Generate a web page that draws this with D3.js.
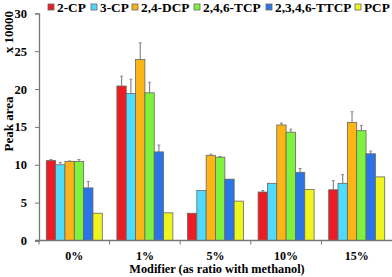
<!DOCTYPE html>
<html><head><meta charset="utf-8">
<script src="https://cdn.jsdelivr.net/npm/d3@7"></script>
<style>body{margin:0;background:#fff}svg{display:block}text{font-family:"Liberation Serif","Times New Roman",serif;font-weight:bold;fill:#000}</style>
</head><body><svg id="c" width="392" height="277"></svg>
<script>
const categories = ["0%", "1%", "5%", "10%", "15%"];
const seriesNames = ["2-CP", "3-CP", "2,4-DCP", "2,4,6-TCP", "2,3,4,6-TTCP", "PCP"];
const colors = ["#ec1c24", "#4fdcfc", "#fdb515", "#7ef23c", "#2b74e8", "#eef51e"];
// values per series (rows) across categories (columns)
const values = [
  [10.55, 20.4, 3.6, 6.4, 6.7],
  [10.0, 19.4, 6.6, 7.55, 7.55],
  [10.45, 23.9, 11.25, 15.25, 15.6],
  [10.45, 19.5, 11.0, 14.3, 14.5],
  [6.95, 11.7, 8.1, 9.0, 11.45],
  [3.6, 3.65, 5.2, 6.75, 8.4]
];
const errors = [
  [0.15, 1.3, 0, 0.2, 1.2],
  [0.3, 1.9, 0, 0, 1.15],
  [0.05, 2.2, 0.15, 0.25, 1.4],
  [0.25, 1.4, 0.1, 0.4, 0.7],
  [0.85, 0.9, 0, 0.5, 0.35],
  [0, 0, 0, 0, 0]
];
const yTicks = [0, 5, 10, 15, 20, 25, 30];

(function () {
const svg = d3.select("#c");
const mLeft = 39, mRight = 392, mTop = 13.3, mBottom = 240.5;
const x0 = d3.scaleBand().domain(categories).range([mLeft, mRight]).paddingInner(0).paddingOuter(0);
const x1 = d3.scaleBand().domain(seriesNames).range([7.3, x0.bandwidth() - 7.3]).padding(0);
const y = d3.scaleLinear().domain([0, 30]).range([mBottom, mTop]);

const data = [];
seriesNames.forEach((s, i) => categories.forEach((c, j) => data.push({s, c, i, v: values[i][j], e: errors[i][j]})));
const cx = d => x0(d.c) + x1(d.s) + x1.bandwidth() / 2;

const g = svg.append("g");
g.selectAll("line.err").data(data.filter(d => d.e > 0)).join("line")
  .attr("x1", cx).attr("x2", cx)
  .attr("y1", d => y(d.v)).attr("y2", d => y(d.v + d.e))
  .attr("stroke", "#888").attr("stroke-width", 1.2);
g.selectAll("line.cap").data(data.filter(d => d.e > 0)).join("line")
  .attr("x1", d => cx(d) - 1.5).attr("x2", d => cx(d) + 1.5)
  .attr("y1", d => y(d.v + d.e)).attr("y2", d => y(d.v + d.e))
  .attr("stroke", "#888").attr("stroke-width", 1);
g.selectAll("rect.bar").data(data).join("rect")
  .attr("x", d => x0(d.c) + x1(d.s))
  .attr("width", x1.bandwidth())
  .attr("y", d => y(d.v))
  .attr("height", d => y(0) - y(d.v))
  .attr("fill", d => colors[d.i])
  .attr("stroke", "#666").attr("stroke-width", 0.8);

const ya = svg.append("g").attr("transform", `translate(${mLeft},0)`)
  .call(d3.axisLeft(y).tickValues(yTicks).tickSize(4).tickPadding(8));
ya.select(".domain").attr("stroke", "#777").attr("stroke-width", 1.3);
ya.selectAll(".tick line").attr("stroke", "#777");
ya.selectAll("text").attr("font-size", 12.5).style("font-family", '"Liberation Serif",serif').style("font-weight", "bold");

const xa = svg.append("g").attr("transform", `translate(0,${mBottom})`);
xa.append("line").attr("x1", mLeft - 4).attr("x2", mRight).attr("y1", 0).attr("y2", 0).attr("stroke", "#777").attr("stroke-width", 1.3);
xa.selectAll("line.t").data(categories).join("line")
  .attr("x1", d => x0(d)).attr("x2", d => x0(d)).attr("y1", 0).attr("y2", 4).attr("stroke", "#777");
xa.selectAll("text").data(categories).join("text")
  .attr("x", d => x0(d) + x0.bandwidth() / 2).attr("y", 19.5)
  .attr("text-anchor", "middle").attr("font-size", 12).text(d => d);

svg.append("text").attr("x", 217).attr("y", 273).attr("text-anchor", "middle").attr("font-size", 12.3)
  .text("Modifier (as ratio with methanol)");
svg.append("text").attr("transform", "translate(13,124) rotate(-90)").attr("text-anchor", "middle").attr("font-size", 13)
  .text("Peak area");
svg.append("text").attr("transform", "translate(13,32) rotate(-90)").attr("text-anchor", "middle").attr("font-size", 13)
  .text("x 10000");

const legX = [48, 91, 132, 194, 266, 355];
const lg = svg.append("g").selectAll("g").data(seriesNames).join("g")
  .attr("transform", (d, i) => `translate(${legX[i]},0)`);
lg.append("rect").attr("x", 0).attr("y", 4).attr("width", 6).attr("height", 6)
  .attr("fill", (d, i) => colors[i]).attr("stroke", "#666").attr("stroke-width", 0.8);
lg.append("text").attr("x", 9).attr("y", 11.5).attr("font-size", 13.3).text(d => d);
})();
</script></body></html>
